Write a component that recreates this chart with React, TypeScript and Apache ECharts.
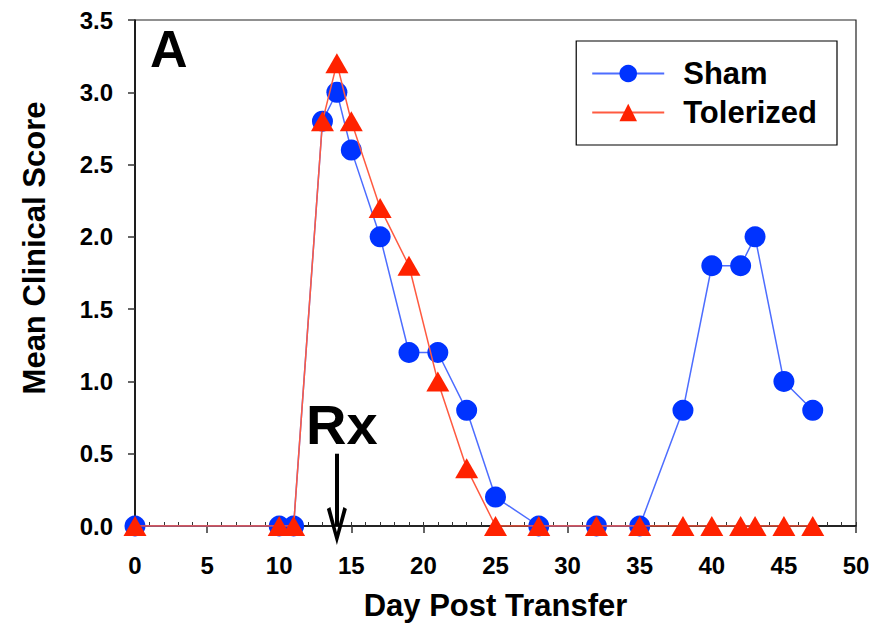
import React, { useEffect, useRef } from "react";
import * as echarts from "echarts";

const days = [0, 10, 11, 13, 14, 15, 17, 19, 21, 23, 25, 28, 32, 35, 38, 40, 42, 43, 45, 47];
const shamScores = [0, 0, 0, 2.8, 3.0, 2.6, 2.0, 1.2, 1.2, 0.8, 0.2, 0, 0, 0, 0.8, 1.8, 1.8, 2.0, 1.0, 0.8];
const tolerizedScores = [0, 0, 0, 2.8, 3.2, 2.8, 2.2, 1.8, 1.0, 0.4, 0, 0, 0, 0, 0, 0, 0, 0, 0, 0];
const rxDay = 14;
const rxArrowTop = 0.5;

const FONT = "Arial, 'Liberation Sans', Helvetica, sans-serif";
const CHEVRON = "path://M10 0 L20 36 L16.5 38 L10 13 L3.5 38 L0 36 Z";

export default function App() {
  const ref = useRef<HTMLDivElement>(null);
  useEffect(() => {
    if (!ref.current) return;
    const chart = echarts.init(ref.current, null, { renderer: "svg" });
    const pair = (ys: number[]) => days.map((d, i) => [d, ys[i]]);
    chart.setOption({
      animation: false,
      backgroundColor: "#fff",
      textStyle: { fontFamily: FONT },
      grid: {
        left: 127,
        right: 13,
        top: 12,
        bottom: 98,
        outerBoundsMode: "none",
        containLabel: false,
        show: true,
        borderColor: "#222",
        borderWidth: 1.2,
        backgroundColor: "transparent",
      },
      legend: {
        orient: "vertical",
        right: 32,
        top: 33,
        padding: [17, 20, 17, 15],
        borderColor: "#000",
        borderWidth: 1.2,
        itemWidth: 72,
        itemHeight: 22,
        itemGap: 8,
        textStyle: { fontFamily: FONT, fontSize: 31, fontWeight: "bold", color: "#000", padding: [0, 0, 0, 14] },
        data: ["Sham", "Tolerized"],
      },
      xAxis: [
        {
          type: "value",
          min: 0,
          max: 50,
          interval: 5,
          name: "Day Post Transfer",
          nameLocation: "middle",
          nameGap: 64,
          nameTextStyle: { fontFamily: FONT, fontSize: 31, fontWeight: "bold", color: "#000" },
          axisLine: { onZero: false, lineStyle: { color: "#000", width: 1.5 } },
          axisTick: { show: true, length: 7, lineStyle: { color: "#333", width: 1.5 } },
          axisLabel: { fontFamily: FONT, fontSize: 24, fontWeight: "bold", color: "#000", margin: 27 },
          splitLine: { show: false },
        },
        {
          type: "value",
          position: "bottom",
          offset: 0,
          min: 0,
          max: 50,
          interval: 1,
          axisLine: { show: false },
          axisTick: { show: true, inside: true, length: 4, lineStyle: { color: "#333", width: 1 } },
          axisLabel: { show: false },
          splitLine: { show: false },
        },
      ],
      yAxis: {
        type: "value",
        min: 0,
        max: 3.5,
        interval: 0.5,
        name: "Mean Clinical Score",
        nameLocation: "middle",
        nameGap: 85,
        nameTextStyle: { fontFamily: FONT, fontSize: 31, fontWeight: "bold", color: "#000", padding: [0, 0, 0, 50] },
        axisLine: { lineStyle: { color: "#000", width: 1.5 } },
        axisTick: { show: true, length: 7, lineStyle: { color: "#333", width: 1.5 } },
        axisLabel: { fontFamily: FONT, fontSize: 24, fontWeight: "bold", color: "#000", margin: 22, formatter: (v: number) => v.toFixed(1) },
        splitLine: { show: false },
      },
      graphic: [
        { type: "text", left: 142, top: 15, style: { text: "A", fontFamily: FONT, fontSize: 52, fontWeight: "bold", fill: "#000" } },
      ],
      series: [
        {
          name: "Sham",
          type: "line",
          data: pair(shamScores),
          symbol: "circle",
          symbolSize: 21,
          itemStyle: { color: "#0033ff" },
          lineStyle: { color: "#4d6dff", width: 1.5 },
          z: 2,
        },
        {
          name: "Tolerized",
          type: "line",
          data: pair(tolerizedScores),
          symbol: "triangle",
          symbolSize: [23, 20],
          itemStyle: { color: "#ff2200" },
          lineStyle: { color: "#ff5a40", width: 1.5 },
          z: 3,
          markLine: {
            silent: true,
            symbol: ["none", CHEVRON],
            symbolSize: [20, 38],
            itemStyle: { color: "#000" },
            lineStyle: { color: "#000", width: 4, type: "solid" },
            label: {
              show: true,
              position: "start",
              formatter: "Rx",
              fontFamily: FONT,
              fontSize: 56,
              fontWeight: "bold",
              color: "#000",
              distance: 1,
              padding: [0, 0, 0, 10],
            },
            data: [[{ coord: [rxDay, rxArrowTop] }, { coord: [rxDay, 0] }]],
          },
        },
      ],
    });
    return () => chart.dispose();
  }, []);
  return <div ref={ref} style={{ width: 861, height: 616 }} />;
}
